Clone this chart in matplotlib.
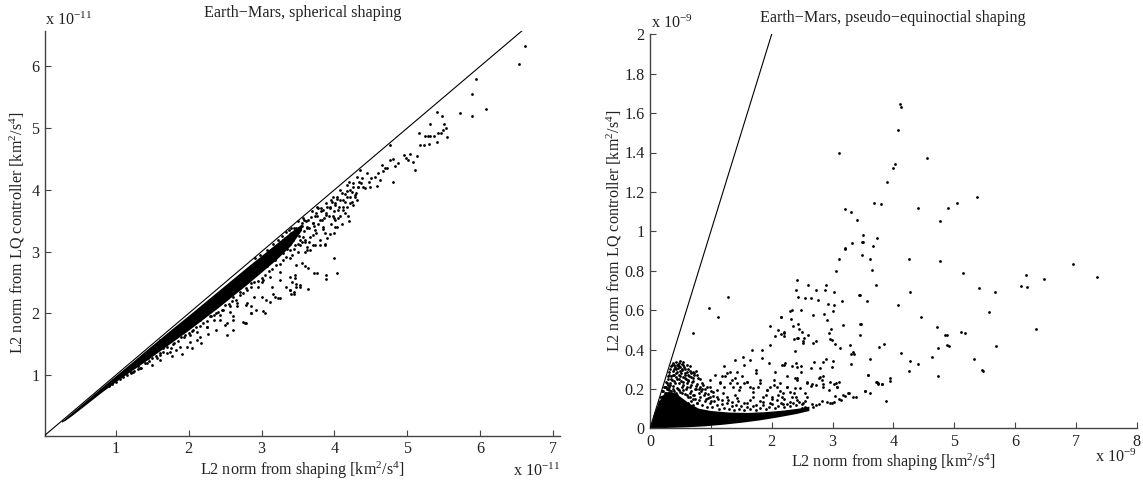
import matplotlib
matplotlib.use('Agg')
import matplotlib.pyplot as plt

plt.rcParams['font.family'] = ['Liberation Serif', 'DejaVu Serif']
plt.rcParams['mathtext.fontset'] = 'custom'
plt.rcParams['mathtext.rm'] = 'Liberation Serif'
plt.rcParams['mathtext.it'] = 'Liberation Serif:italic'

# ---------------- data (units: 1e-11 left, 1e-9 right) ----------------
left_title = 'Earth\u2212Mars, spherical shaping'
right_title = 'Earth\u2212Mars, pseudo\u2212equinoctial shaping'
xlabel = r'L2 norm from shaping [km$^2$/s$^4$]'
ylabel = r'L2 norm from LQ controller [km$^2$/s$^4$]'
left_xticks = [1, 2, 3, 4, 5, 6, 7]
left_yticks = [1, 2, 3, 4, 5, 6]
right_xticks = [0, 1, 2, 3, 4, 5, 6, 7, 8]
right_yticks = [0, 0.2, 0.4, 0.6, 0.8, 1.0, 1.2, 1.4, 1.6, 1.8, 2.0]
right_yticklabels = ['0', '0.2', '0.4', '0.6', '0.8', '1', '1.2', '1.4', '1.6', '1.8', '2']

# left: densely covered core band (edges)
band_x = [0.25, 0.3, 0.4, 0.6, 0.8, 1.0, 1.2, 1.4, 1.6, 1.8, 2.0, 2.2, 2.4, 2.6, 2.8, 3.0, 3.2, 3.4, 3.55]
band_hi = [0.255, 0.30, 0.40, 0.60, 0.80, 0.995, 1.19, 1.39, 1.585, 1.78, 1.97, 2.165, 2.36, 2.555, 2.75, 2.94, 3.13, 3.32, 3.45]
band_lo = [0.235, 0.265, 0.35, 0.535, 0.72, 0.895, 1.06, 1.22, 1.39, 1.56, 1.73, 1.91, 2.09, 2.28, 2.47, 2.67, 2.87, 3.10, 3.35]

# left: individual points
left_band_pts = [
    (4.35, 4.32), (4.31, 4.21), (4.26, 4.11), (4.33, 4.05), (4.21, 4.00), (4.17, 4.08),
    (4.28, 3.92), (4.24, 3.81), (4.15, 3.94), (4.12, 3.84), (4.08, 4.00), (4.03, 3.89),
    (4.01, 3.76), (3.96, 3.84), (3.94, 3.70), (3.89, 3.78), (3.88, 3.59), (3.82, 3.65),
    (3.80, 3.51), (3.76, 3.73), (3.73, 3.57), (3.71, 3.46), (3.69, 3.65), (3.64, 3.51),
    (3.62, 3.38), (3.57, 3.54), (3.55, 3.41), (3.50, 3.49), (3.48, 3.30), (3.44, 3.38),
    (3.41, 3.38), (3.37, 3.24), (3.34, 3.31), (3.30, 3.19), (3.28, 3.25), (3.25, 3.08),
    (3.23, 3.19), (3.21, 2.97), (3.16, 3.13), (3.14, 3.03), (3.09, 2.89), (3.07, 3.03),
    (3.05, 2.95), (3.02, 2.81), (2.98, 2.94), (2.94, 2.78), (2.91, 2.89), (2.86, 2.70),
    (3.34, 2.92), (3.39, 3.03), (3.46, 3.11), (3.60, 3.19), (3.71, 3.27), (3.85, 3.40),
    (3.99, 3.54), (4.12, 3.67), (4.26, 3.76), (4.01, 3.51), (4.17, 3.73), (3.73, 3.35),
    (3.57, 3.24), (3.50, 3.13), (3.25, 3.00), (3.18, 2.86), (3.07, 2.76), (3.39, 2.89),
    (3.62, 3.08), (3.87, 3.30), (4.03, 3.40), (3.48, 2.78), (3.25, 2.67), (3.12, 2.59),
    (3.00, 2.51), (3.66, 3.03), (3.80, 3.19), (4.19, 3.57), (4.31, 3.84),
    (3.30, 3.19), (3.39, 3.29), (3.48, 3.35), (3.53, 3.19), (3.62, 3.40), (3.66, 3.24),
    (3.71, 3.46), (3.76, 3.57), (3.85, 3.67), (3.83, 3.51), (3.89, 3.62), (3.94, 3.73),
    (3.98, 3.57), (4.01, 3.78), (4.05, 3.67), (4.08, 3.84), (4.12, 3.73), (4.17, 3.89),
    (4.21, 3.78), (4.24, 3.97), (4.28, 3.89), (4.33, 4.05), (4.37, 4.11), (4.42, 4.03),
    (4.47, 4.13), (4.51, 4.19), (4.56, 4.21), (4.60, 4.27), (4.63, 4.16), (4.67, 4.30),
    (4.72, 4.35), (3.87, 3.10), (3.94, 3.29), (4.01, 3.40), (4.08, 3.57),
    (3.32, 3.22), (3.36, 3.12), (3.40, 3.30), (3.43, 3.18), (3.47, 3.38), (3.52, 3.26),
    (3.55, 3.47), (3.58, 3.33), (3.61, 3.50), (3.65, 3.38), (3.68, 3.56), (3.72, 3.42),
    (3.75, 3.62), (3.78, 3.45), (3.82, 3.71), (3.86, 3.55), (3.90, 3.72), (3.93, 3.58),
    (3.97, 3.80), (4.00, 3.65), (4.04, 3.85), (4.07, 3.72), (4.10, 3.95), (4.14, 3.80),
    (4.18, 3.98), (4.22, 3.88), (4.26, 4.05), (4.30, 3.95), (4.38, 4.20), (4.40, 4.05),
    (3.35, 3.05), (3.45, 3.05), (3.55, 3.15), (3.65, 3.15), (3.75, 3.30), (3.85, 3.36),
    (3.95, 3.45), (4.05, 3.55), (4.15, 3.62), (3.38, 3.35), (3.58, 3.52), (3.78, 3.70),
    (3.98, 3.88), (4.20, 4.12), (3.30, 2.98), (3.42, 2.95), (3.50, 3.00), (3.60, 3.00),
    (3.70, 3.10), (3.80, 3.10), (3.90, 3.22), (4.00, 3.30), (4.10, 3.45), (4.20, 3.50),
]
left_low_pts = [
    (1.10, 0.97), (1.15, 1.00), (1.20, 1.03), (1.25, 1.06), (1.30, 1.10), (1.35, 1.12),
    (1.49, 1.16), (1.60, 1.24), (1.77, 1.30), (1.91, 1.34), (2.04, 1.43), (2.17, 1.52),
    (2.11, 1.57), (1.97, 1.46), (1.83, 1.40), (1.70, 1.35), (1.56, 1.27), (1.42, 1.19),
    (1.33, 1.11), (1.24, 1.05), (1.44, 1.27), (1.60, 1.32), (1.74, 1.38), (1.88, 1.46),
    (2.02, 1.54), (2.15, 1.62), (2.27, 1.67), (2.38, 1.73), (2.50, 1.81), (2.61, 1.89),
    (2.75, 1.86), (2.86, 2.00), (3.02, 2.03), (3.06, 2.21), (3.16, 2.32), (3.23, 2.24),
    (3.39, 2.38), (3.44, 2.32), (1.79, 1.51), (1.65, 1.43), (1.51, 1.35), (1.38, 1.30),
    (1.28, 1.19), (1.60, 1.57), (1.93, 1.62), (2.06, 1.73), (2.25, 1.78), (2.34, 1.89),
    (2.43, 1.97), (2.57, 2.02), (2.66, 2.11), (2.80, 2.16), (2.89, 2.27), (2.61, 1.73),
    (2.34, 2.22), (2.43, 2.27), (2.52, 2.32), (2.61, 2.27), (2.70, 2.35), (2.79, 2.41),
    (2.86, 2.49), (2.57, 2.11), (2.66, 2.16), (2.47, 2.05), (2.38, 2.00), (2.29, 1.95),
    (2.15, 1.89), (2.25, 1.78), (2.43, 1.89), (2.11, 1.70), (2.02, 1.65), (2.61, 1.95),
    (2.52, 1.84), (2.77, 1.84), (2.95, 2.43), (3.02, 2.54), (3.14, 2.43), (3.00, 2.27),
    (3.18, 2.27), (3.25, 2.54), (3.34, 2.43), (3.39, 2.59), (3.48, 2.43), (3.46, 2.62),
    (3.60, 2.76), (3.62, 3.03), (3.73, 3.11), (3.87, 3.12), (3.99, 2.89), (4.03, 2.65),
    (3.89, 2.62), (3.89, 2.55), (3.72, 2.65), (3.76, 2.65), (3.64, 2.73), (3.64, 2.40),
    (3.53, 2.43), (3.25, 2.24), (3.12, 2.19), (3.05, 2.00), (2.93, 2.05), (2.86, 2.11),
    (2.79, 2.13), (2.79, 1.85), (2.86, 2.00), (2.52, 1.65), (3.56, 2.82), (3.53, 2.46),
    (3.48, 2.48), (3.46, 2.57), (3.42, 2.51), (3.39, 2.37), (3.44, 2.35), (3.41, 2.32),
    (3.25, 3.16), (3.39, 3.13), (3.53, 3.11), (3.60, 3.16),
    (1.20, 1.05), (1.30, 1.14), (1.40, 1.20), (1.50, 1.28), (1.60, 1.36), (1.70, 1.46),
    (1.80, 1.52), (1.90, 1.62), (2.00, 1.68), (2.10, 1.78), (2.20, 1.84), (2.30, 1.95),
    (2.40, 2.02), (2.50, 2.14), (2.60, 2.20), (2.70, 2.30), (2.80, 2.38), (2.90, 2.50),
    (3.00, 2.58), (3.10, 2.68), (3.20, 2.78), (3.30, 2.86), (1.45, 1.22), (1.55, 1.30),
    (1.65, 1.38), (1.75, 1.44), (1.85, 1.55), (1.95, 1.64), (2.05, 1.72), (2.15, 1.80),
    (2.25, 1.88), (2.35, 1.97), (2.45, 2.06), (2.55, 2.15), (2.65, 2.22), (2.75, 2.33),
    (2.85, 2.42), (2.95, 2.52), (3.05, 2.62), (3.15, 2.72), (3.25, 2.80),
    (0.95, 0.86), (1.00, 0.88), (1.05, 0.93), (0.90, 0.82),
]
left_tail_pts = [
    (4.81, 4.13), (4.83, 4.38), (4.81, 4.50), (4.76, 4.48), (4.88, 4.43), (4.96, 4.57),
    (4.99, 4.51), (5.01, 4.48), (5.04, 4.58), (5.08, 4.45), (5.11, 4.32), (5.14, 4.55),
    (4.76, 4.73), (5.16, 4.92), (5.18, 4.72), (5.23, 4.72), (5.25, 4.88), (5.29, 4.88),
    (5.32, 4.88), (5.37, 4.87), (5.30, 4.74), (5.41, 4.77), (5.31, 5.07), (5.41, 5.26),
    (5.48, 5.19), (5.51, 5.06), (5.53, 5.01), (5.49, 4.97), (5.47, 4.93), (5.43, 4.92),
    (5.55, 4.85), (5.72, 5.25), (5.89, 5.19), (5.89, 5.55), (5.95, 5.79), (6.09, 5.31),
    (6.54, 6.04), (6.62, 6.34), (4.70, 4.36), (4.66, 4.40), (4.58, 4.06), (4.49, 4.04),
    (4.45, 4.28), (4.34, 4.13),
]

# right: densely covered core region (outline)
core_x = [0.0, 0.06, 0.12, 0.2, 0.3, 0.4, 0.5, 0.65, 0.8, 1.0, 1.3, 1.6, 1.9, 2.2, 2.45, 2.62,
          2.62, 2.4, 2.1, 1.8, 1.5, 1.2, 0.9, 0.6, 0.3, 0.1]
core_y = [0.0, 0.055, 0.11, 0.165, 0.185, 0.18, 0.16, 0.125, 0.10, 0.088, 0.08, 0.078, 0.082, 0.09,
          0.10, 0.11, 0.088, 0.072, 0.055, 0.04, 0.028, 0.018, 0.01, 0.005, 0.002, 0.0]

right_cluster_pts = [
    (0.38, 0.331), (0.43, 0.339), (0.47, 0.334), (0.52, 0.327), (0.55, 0.337), (0.34, 0.314),
    (0.41, 0.310), (0.48, 0.317), (0.56, 0.310), (0.32, 0.288), (0.37, 0.293), (0.45, 0.288),
    (0.53, 0.297), (0.60, 0.288), (0.66, 0.293), (0.71, 0.287), (0.76, 0.293), (0.29, 0.263),
    (0.35, 0.266), (0.42, 0.259), (0.49, 0.266), (0.57, 0.256), (0.64, 0.263), (0.70, 0.253),
    (0.79, 0.254), (0.26, 0.237), (0.33, 0.232), (0.39, 0.239), (0.47, 0.229), (0.54, 0.236),
    (0.61, 0.229), (0.69, 0.237), (0.77, 0.225), (0.85, 0.232), (0.23, 0.212), (0.31, 0.209),
    (0.37, 0.215), (0.44, 0.205), (0.52, 0.212), (0.59, 0.202), (0.66, 0.209), (0.74, 0.198),
    (0.82, 0.209), (0.90, 0.198), (0.20, 0.187), (0.27, 0.181), (0.35, 0.188), (0.43, 0.178),
    (0.50, 0.185), (0.58, 0.175), (0.65, 0.181), (0.72, 0.171), (0.80, 0.178), (0.88, 0.168),
    (0.96, 0.175), (1.04, 0.164), (0.175, 0.161), (0.148, 0.136), (0.126, 0.110), (0.104, 0.085),
    (0.60, 0.322), (0.66, 0.314), (0.49, 0.341), (0.40, 0.300), (0.51, 0.280), (0.62, 0.247),
    (0.44, 0.250), (0.36, 0.245), (0.28, 0.200), (0.55, 0.195), (0.68, 0.190), (0.75, 0.215),
    (0.84, 0.190), (0.92, 0.150), (1.00, 0.140), (0.46, 0.305), (0.58, 0.270), (0.72, 0.270),
    (0.22, 0.190), (0.25, 0.210), (0.28, 0.230), (0.30, 0.250), (0.31, 0.270), (0.33, 0.300),
    (0.36, 0.320), (0.40, 0.320), (0.44, 0.320), (0.50, 0.310), (0.54, 0.320), (0.58, 0.300),
    (0.62, 0.300), (0.68, 0.280), (0.73, 0.280), (0.78, 0.270), (0.82, 0.250), (0.87, 0.220),
    (0.93, 0.210), (0.24, 0.180), (0.30, 0.200), (0.33, 0.220), (0.38, 0.200), (0.41, 0.230),
    (0.46, 0.200), (0.48, 0.250), (0.51, 0.240), (0.55, 0.220), (0.60, 0.210), (0.63, 0.240),
    (0.67, 0.220), (0.71, 0.240), (0.76, 0.200), (0.80, 0.200), (0.85, 0.200), (0.40, 0.270),
    (0.43, 0.280), (0.47, 0.270), (0.50, 0.290), (0.55, 0.260), (0.59, 0.250), (0.62, 0.270),
    (0.67, 0.260), (0.30, 0.220), (0.27, 0.210), (0.34, 0.250), (0.38, 0.270), (0.42, 0.300),
    (0.46, 0.320), (0.53, 0.300), (0.57, 0.280), (0.60, 0.170), (0.70, 0.150), (0.45, 0.170),
    (0.36, 0.175), (0.25, 0.165), (0.18, 0.160), (0.16, 0.140), (0.14, 0.125), (0.11, 0.100),
    (0.09, 0.080), (0.07, 0.060), (0.32, 0.195), (0.40, 0.190), (0.48, 0.195), (0.53, 0.180),
    (0.63, 0.160), (0.68, 0.140), (0.77, 0.130),
]
right_lowband_pts = [
    (0.62, 0.13), (0.66, 0.16), (0.70, 0.12), (0.74, 0.15), (0.78, 0.13), (0.82, 0.16),
    (0.86, 0.12), (0.90, 0.14), (0.94, 0.11), (0.98, 0.13), (1.02, 0.11), (1.06, 0.14),
    (1.10, 0.12), (1.14, 0.10), (1.18, 0.125), (1.22, 0.105), (1.26, 0.13), (1.30, 0.10),
    (1.34, 0.115), (1.38, 0.095), (1.42, 0.12), (1.46, 0.10), (1.50, 0.115), (1.55, 0.095),
    (1.60, 0.11), (1.65, 0.10), (1.70, 0.115), (1.75, 0.095), (1.80, 0.105), (1.85, 0.12),
    (1.90, 0.10), (1.95, 0.11), (2.00, 0.125), (2.05, 0.105), (2.10, 0.115), (2.15, 0.13),
    (2.20, 0.11), (2.25, 0.125), (2.30, 0.115), (2.35, 0.13), (2.40, 0.12), (2.45, 0.135),
    (2.50, 0.125), (2.55, 0.14), (0.70, 0.17), (0.80, 0.145), (0.95, 0.155), (1.12, 0.15),
    (1.28, 0.145), (1.45, 0.14), (1.60, 0.13), (1.80, 0.14), (2.00, 0.15), (2.20, 0.15),
    (2.40, 0.16), (1.00, 0.19), (1.20, 0.18), (1.40, 0.17), (1.70, 0.16), (1.90, 0.17),
    (2.10, 0.17),
]
right_spread_pts = [
    (0.99, 0.212), (1.10, 0.161), (1.18, 0.144), (1.26, 0.161), (1.34, 0.136), (1.43, 0.153),
    (1.54, 0.127), (1.64, 0.144), (1.75, 0.119), (1.86, 0.136), (1.97, 0.127), (2.08, 0.144),
    (2.19, 0.124), (2.30, 0.136), (2.41, 0.144), (2.52, 0.127), (2.58, 0.161), (0.98, 0.246),
    (1.07, 0.271), (1.15, 0.237), (1.23, 0.263), (1.32, 0.229), (1.40, 0.254), (1.48, 0.212),
    (1.59, 0.237), (1.70, 0.203), (1.81, 0.229), (1.92, 0.195), (2.03, 0.220), (2.14, 0.187),
    (2.25, 0.212), (2.36, 0.178), (2.47, 0.203), (2.55, 0.178), (1.21, 0.314), (1.40, 0.347),
    (1.43, 0.288), (1.54, 0.322), (1.64, 0.348), (1.75, 0.297), (1.84, 0.356), (1.95, 0.331),
    (2.06, 0.288), (2.17, 0.322), (2.25, 0.263), (2.33, 0.314), (2.41, 0.246), (2.49, 0.288),
    (2.58, 0.237), (0.90, 0.178), (0.99, 0.161), (1.04, 0.186), (1.10, 0.195), (1.15, 0.229),
    (1.18, 0.263), (1.21, 0.212), (1.26, 0.280), (1.32, 0.288), (1.34, 0.246), (1.37, 0.212),
    (1.43, 0.229), (1.47, 0.195), (1.51, 0.263), (1.54, 0.229), (1.59, 0.237), (1.64, 0.212),
    (1.70, 0.186), (1.75, 0.280), (1.78, 0.212), (1.81, 0.246), (1.86, 0.161), (1.92, 0.195),
    (1.97, 0.212), (2.00, 0.161), (2.03, 0.246), (2.08, 0.212), (2.14, 0.229), (2.17, 0.161),
    (2.19, 0.178), (2.25, 0.212), (2.30, 0.186), (2.33, 0.161), (2.38, 0.203),
    (0.97, 0.610), (1.12, 0.566), (1.28, 0.666), (0.70, 0.483), (1.53, 0.361), (1.67, 0.398),
    (1.84, 0.395), (1.97, 0.422), (1.97, 0.520), (2.06, 0.466), (2.11, 0.500), (2.15, 0.480),
    (2.21, 0.486), (2.15, 0.563), (2.30, 0.597), (2.32, 0.556), (2.36, 0.454), (2.44, 0.458),
    (2.52, 0.444),
]
right_band_tail = [
    (2.68, 0.110), (2.73, 0.120), (2.66, 0.122), (2.50, 0.102), (2.55, 0.107), (2.83, 0.137),
    (2.91, 0.132), (2.99, 0.130), (3.03, 0.132), (3.04, 0.164), (3.14, 0.142), (3.21, 0.164),
    (3.27, 0.178), (3.34, 0.158), (3.39, 0.161), (3.54, 0.191), (3.62, 0.181), (3.88, 0.137),
    (3.18, 0.170), (3.26, 0.180), (2.96, 0.130), (3.10, 0.150), (2.78, 0.125),
]
right_high_pts = [
    (3.10, 1.400), (3.21, 1.115), (3.31, 1.100), (3.40, 1.055), (3.50, 0.983), (3.32, 0.940),
    (3.21, 0.915), (3.50, 0.944), (4.11, 1.648), (4.13, 1.630), (4.07, 1.512), (4.56, 1.370),
    (4.03, 1.344), (4.00, 1.319), (3.90, 1.249), (3.69, 1.146), (3.80, 1.139), (4.41, 1.117),
    (4.90, 1.117), (5.04, 1.146), (5.37, 1.173), (4.77, 1.054), (3.73, 0.966), (3.66, 0.927),
    (3.48, 0.881), (3.61, 0.859), (3.65, 0.805), (3.71, 0.729), (3.56, 0.644), (3.45, 0.678),
    (4.26, 0.859), (4.77, 0.848), (4.27, 0.692), (4.07, 0.626), (4.46, 0.565), (5.14, 0.788),
    (5.41, 0.712), (5.67, 0.690), (5.57, 0.588), (6.10, 0.720), (6.20, 0.719), (6.18, 0.778),
    (6.48, 0.758), (6.96, 0.832), (7.34, 0.770), (6.34, 0.505), (4.72, 0.512), (4.85, 0.473),
    (4.89, 0.476), (5.12, 0.490), (5.18, 0.483), (4.89, 0.425), (4.92, 0.419), (4.74, 0.407),
    (4.64, 0.363), (5.68, 0.417), (5.33, 0.352), (5.46, 0.298), (5.48, 0.291), (4.74, 0.268),
    (4.40, 0.327), (4.27, 0.344), (4.25, 0.291), (4.12, 0.381), (3.94, 0.254), (3.94, 0.242),
    (3.77, 0.415), (3.85, 0.429), (3.62, 0.352), (3.59, 0.273), (3.72, 0.234), (3.74, 0.229),
    (3.81, 0.225), (3.54, 0.191), (3.45, 0.529), (3.45, 0.475),
    (3.11, 0.861), (3.06, 0.797), (2.41, 0.751), (2.59, 0.727), (2.89, 0.727), (2.40, 0.703),
    (2.73, 0.700), (2.88, 0.700), (3.03, 0.693), (2.43, 0.669), (2.55, 0.661), (2.64, 0.663),
    (2.76, 0.651), (3.44, 0.676), (2.93, 0.632), (3.03, 0.627), (3.15, 0.644), (2.33, 0.602),
    (2.49, 0.602), (2.68, 0.573), (2.86, 0.581), (3.01, 0.593), (2.15, 0.563), (2.91, 0.551),
    (2.35, 0.520), (2.44, 0.530), (2.45, 0.505), (3.17, 0.525), (3.47, 0.530), (2.97, 0.505),
    (2.20, 0.490), (2.20, 0.471), (2.50, 0.488), (2.53, 0.459), (2.60, 0.476), (2.95, 0.483),
    (2.96, 0.453), (2.42, 0.456), (2.52, 0.432), (2.68, 0.432), (2.73, 0.444), (2.99, 0.448),
    (3.29, 0.424), (3.04, 0.429), (3.13, 0.407), (3.31, 0.378), (2.38, 0.390), (3.34, 0.385),
    (3.36, 0.378), (2.22, 0.331), (2.20, 0.322), (2.40, 0.334), (2.48, 0.318), (2.69, 0.339),
    (2.84, 0.339), (2.89, 0.351), (3.01, 0.341), (2.99, 0.313), (3.31, 0.327), (2.41, 0.310),
    (2.65, 0.305), (3.58, 0.273), (2.38, 0.254), (2.41, 0.257), (2.78, 0.254), (2.84, 0.266),
    (2.58, 0.232), (2.66, 0.224), (2.64, 0.217), (2.85, 0.224), (2.73, 0.219), (3.02, 0.225),
    (3.10, 0.237), (3.08, 0.209), (2.95, 0.195), (2.80, 0.305), (2.80, 0.262), (2.82, 0.246),
    (3.73, 0.234), (3.75, 0.227), (3.82, 0.225), (3.06, 0.232), (3.08, 0.212), (2.96, 0.237),
    (2.85, 0.212), (3.20, 0.910), (3.49, 0.946),
]

# ---------------- drawing ----------------
W, H = 1143, 483
fig = plt.figure(figsize=(W / 100, H / 100), dpi=100)

def fx(px):
    return px / W

def fy(py):
    return 1 - py / H

axL = fig.add_axes([fx(45), fy(435.7), (560 - 45) / W, (435.7 - 30.7) / H])
axR = fig.add_axes([fx(650), fy(428.3), (1136.7 - 650) / W, (428.3 - 34.3) / H])

ms = 2.0
ink = 'black'

# left panel
axL.plot([0, 6.62], [0, 6.62], color=ink, lw=0.8, zorder=3)
axL.fill_between(band_x, band_lo, band_hi, color=ink, lw=0, zorder=2)
for pts in (left_band_pts, left_low_pts, left_tail_pts):
    xs = [p[0] for p in pts]
    ys = [p[1] for p in pts]
    axL.plot(xs, ys, 'o', color=ink, ms=ms, mew=0, zorder=2)
axL.set_xlim(0.025, 7.1)
axL.set_ylim(0.016, 6.58)
axL.set_xticks(left_xticks)
axL.set_yticks(left_yticks)

# right panel
axR.plot([0, 2], [0, 2], color=ink, lw=0.8, zorder=3)
axR.fill(core_x, core_y, color=ink, lw=0, zorder=2)
for pts in (right_cluster_pts, right_lowband_pts, right_spread_pts, right_band_tail, right_high_pts):
    xs = [p[0] for p in pts]
    ys = [p[1] for p in pts]
    axR.plot(xs, ys, 'o', color=ink, ms=ms, mew=0, zorder=2)
axR.set_xlim(0, 8)
axR.set_ylim(0, 2)
axR.set_xticks(right_xticks)
axR.set_yticks(right_yticks)
axR.set_yticklabels(right_yticklabels)

fs = 11.6
for ax in (axL, axR):
    for s in ('top', 'right'):
        ax.spines[s].set_visible(False)
    for s in ('left', 'bottom'):
        ax.spines[s].set_color('#444444')
        ax.spines[s].set_linewidth(1.0)
    ax.tick_params(direction='in', length=4, width=0.8, color='#444444',
                   labelsize=fs, labelcolor='#222222', pad=4)
    ax.set_facecolor('none')

txt = '#222222'
fig.text(fx(302.5), fy(13), left_title, ha='center', va='center', fontsize=fs, color=txt)
fig.text(fx(893), fy(18), right_title, ha='center', va='center', fontsize=fs, color=txt)
fig.text(fx(302.5), fy(470), xlabel, ha='center', va='center', fontsize=fs, color=txt)
fig.text(fx(893), fy(462), xlabel, ha='center', va='center', fontsize=fs, color=txt)
fig.text(fx(17), fy(233), ylabel, ha='center', va='center', rotation=90, fontsize=fs, color=txt)
fig.text(fx(614), fy(231), ylabel, ha='center', va='center', rotation=90, fontsize=fs, color=txt)
fig.text(fx(45), fy(25), r'x 10$^{-11}$', ha='left', va='baseline', fontsize=fs, color=txt)
fig.text(fx(560), fy(476), r'x 10$^{-11}$', ha='right', va='baseline', fontsize=fs, color=txt)
fig.text(fx(651), fy(28), r'x 10$^{-9}$', ha='left', va='baseline', fontsize=fs, color=txt)
fig.text(fx(1137), fy(462), r'x 10$^{-9}$', ha='right', va='baseline', fontsize=fs, color=txt)

fig.savefig('out.png', dpi=100, facecolor='white')
